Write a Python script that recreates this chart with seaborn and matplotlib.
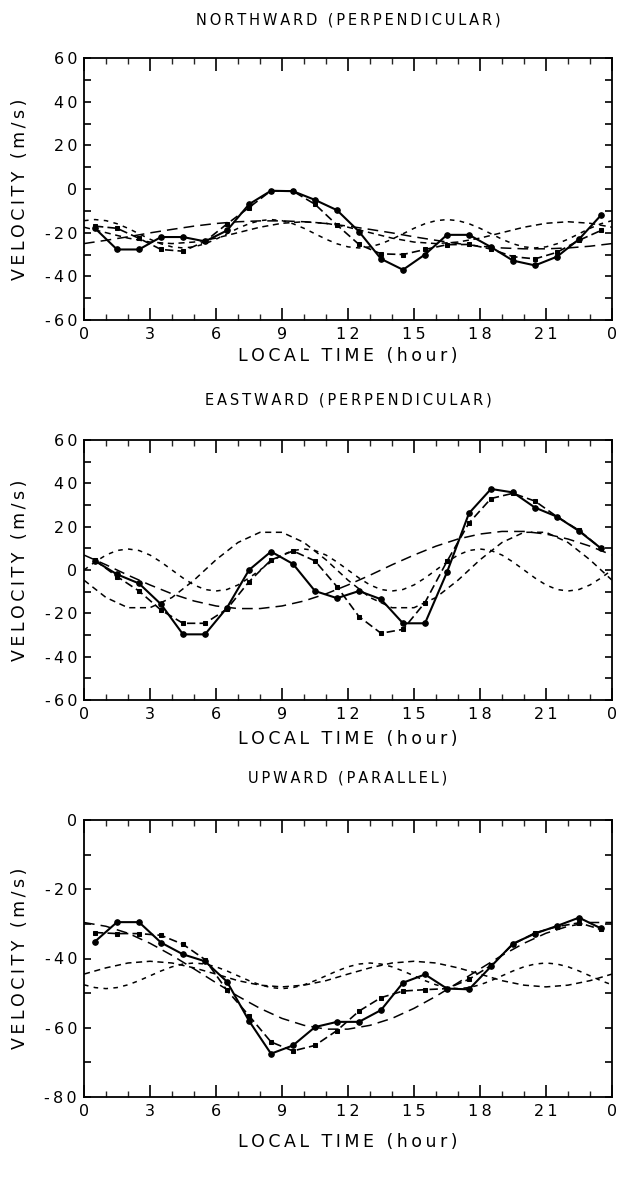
import numpy as np
import pandas as pd
import matplotlib
matplotlib.use("Agg")
import matplotlib.pyplot as plt
import seaborn as sns
from matplotlib.ticker import MultipleLocator

# ---------------- data ----------------
obs_hours = [0.5, 1.5, 2.5, 3.5, 4.5, 5.5, 6.5, 7.5, 8.5, 9.5, 10.5, 11.5,
             12.5, 13.5, 14.5, 15.5, 16.5, 17.5, 18.5, 19.5, 20.5, 21.5, 22.5, 23.5]
fit_hours = [0, 1, 2, 3, 4, 5, 6, 7, 8, 9, 10, 11, 12, 13, 14, 15, 16, 17, 18,
             19, 20, 21, 22, 23, 24]
fit_hours_half = list(np.arange(0, 24.5, 0.5))

x_tick_pos = [0, 3, 6, 9, 12, 15, 18, 21, 24]
x_tick_lab = ["0", "3", "6", "9", "12", "15", "18", "21", "0"]

# Northward
north_obs = [-18, -27.7, -27.7, -22, -22, -24, -19, -7, -0.8, -1, -5, -9.7,
             -19.5, -32, -37, -30, -21, -21, -26.6, -32.8, -35, -31, -23, -12]
north_fit = [-17, -18, -22.6, -27.7, -28.5, -24, -16, -8.5, -0.8, -1, -7, -16.5,
             -25.4, -29.7, -30, -27.7, -25.5, -25.4, -27.5, -31, -32, -29, -23.5, -19]
north_diurnal = [-25.0, -23.5, -21.9, -20.1, -18.5, -17.0, -15.8, -15.0, -14.6,
                 -14.6, -15.0, -15.8, -17.0, -18.5, -20.1, -21.9, -23.5, -25.0,
                 -26.2, -27.0, -27.4, -27.4, -27.0, -26.2, -25.0]
north_semi = [-17.5, -20.0, -22.5, -24.3, -25.0, -24.3, -22.5, -20.0, -17.5,
              -15.7, -15.0, -15.7, -17.5, -20.0, -22.5, -24.3, -25.0, -24.3,
              -22.5, -20.0, -17.5, -15.7, -15.0, -15.7, -17.5]
north_ter = [-14.5, -14.0, -14.5, -15.9, -18.0, -20.5, -23.0, -25.1, -26.5, -27.0,
             -26.5, -25.1, -23.0, -20.5, -18.0, -15.9,
             -14.5, -14.0, -14.5, -15.9, -18.0, -20.5, -23.0, -25.1, -26.5, -27.0,
             -26.5, -25.1, -23.0, -20.5, -18.0, -15.9,
             -14.5, -14.0, -14.5, -15.9, -18.0, -20.5, -23.0, -25.1, -26.5, -27.0,
             -26.5, -25.1, -23.0, -20.5, -18.0, -15.9, -14.5]

# Eastward
east_obs = [4.2, -2, -6.2, -15.8, -29.7, -29.7, -17.4, 0, 8.5, 2.8, -9.7, -13,
            -9.7, -13.5, -24.6, -24.6, -1, 26.2, 37.4, 35.8, 28.8, 24.6, 18, 10]
east_fit = [4.5, -3, -9.7, -18.5, -24.6, -24.6, -18, -5.4, 4.6, 8.8, 4.2, -7.7,
            -21.5, -29.2, -27.4, -15, 4, 21.7, 33, 35.4, 31.8, 24.6, 18.3, 10]
east_diurnal = [6.9, 2.4, -2.4, -6.9, -11.0, -14.3, -16.6, -17.8, -17.8, -16.6,
                -14.3, -11.0, -6.9, -2.4, 2.4, 6.9, 11.0, 14.3, 16.6, 17.8, 17.8,
                16.6, 14.3, 11.0, 6.9]
east_semi = [-4.7, -12.7, -17.4, -17.4, -12.7, -4.7, 4.7, 12.7, 17.4, 17.4, 12.7,
             4.7, -4.7, -12.7, -17.4, -17.4, -12.7, -4.7, 4.7, 12.7, 17.4, 17.4,
             12.7, 4.7, -4.7]
east_ter = [0, 3.7, 6.9, 9.0, 9.7, 9.0, 6.9, 3.7, 0, -3.7, -6.9, -9.0, -9.7, -9.0,
            -6.9, -3.7,
            0, 3.7, 6.9, 9.0, 9.7, 9.0, 6.9, 3.7, 0, -3.7, -6.9, -9.0, -9.7, -9.0,
            -6.9, -3.7,
            0, 3.7, 6.9, 9.0, 9.7, 9.0, 6.9, 3.7, 0, -3.7, -6.9, -9.0, -9.7, -9.0,
            -6.9, -3.7, 0]

# Upward
up_obs = [-35.1, -29.5, -29.5, -35.4, -38.8, -40.8, -46.7, -58, -67.5, -65.1,
          -59.8, -58.3, -58.3, -54.9, -47.0, -44.6, -48.7, -48.9, -42.3, -35.7,
          -32.8, -30.6, -28.2, -31.3]
up_fit = [-32.5, -32.8, -32.8, -33.3, -35.9, -40.3, -49.2, -56.5, -64.1, -66.7,
          -65.1, -60.8, -55.2, -51.3, -49.4, -49.0, -48.7, -46.0, -42.0, -35.9,
          -32.6, -30.8, -29.7, -31.6]
up_diurnal = [-29.6, -30.7, -32.7, -35.6, -39.1, -43.0, -47.0, -50.9, -54.4, -57.3,
              -59.3, -60.4, -60.4, -59.3, -57.3, -54.4, -50.9, -47.0, -43.0, -39.1,
              -35.6, -32.7, -30.7, -29.6, -29.6]
up_semi = [-44.5, -42.7, -41.3, -40.8, -41.3, -42.7, -44.5, -46.4, -47.7, -48.2,
           -47.7, -46.4, -44.5, -42.7, -41.3, -40.8, -41.3, -42.7, -44.5, -46.4,
           -47.7, -48.2, -47.7, -46.4, -44.5]
up_ter = [-47.6, -48.4, -48.7, -48.4, -47.6, -46.4, -45.0, -43.6, -42.4, -41.6,
          -41.3, -41.6, -42.4, -43.6, -45.0, -46.4,
          -47.6, -48.4, -48.7, -48.4, -47.6, -46.4, -45.0, -43.6, -42.4, -41.6,
          -41.3, -41.6, -42.4, -43.6, -45.0, -46.4,
          -47.6, -48.4, -48.7, -48.4, -47.6, -46.4, -45.0, -43.6, -42.4, -41.6,
          -41.3, -41.6, -42.4, -43.6, -45.0, -46.4, -47.6]

panels = [
    dict(title="NORTHWARD (PERPENDICULAR)", obs=north_obs, fit=north_fit,
         d=north_diurnal, s=north_semi, t=north_ter, ylim=(-60, 60),
         yticks=[-60, -40, -20, 0, 20, 40, 60]),
    dict(title="EASTWARD (PERPENDICULAR)", obs=east_obs, fit=east_fit,
         d=east_diurnal, s=east_semi, t=east_ter, ylim=(-60, 60),
         yticks=[-60, -40, -20, 0, 20, 40, 60]),
    dict(title="UPWARD (PARALLEL)", obs=up_obs, fit=up_fit,
         d=up_diurnal, s=up_semi, t=up_ter, ylim=(-80, 0),
         yticks=[-80, -60, -40, -20, 0]),
]

# ---------------- style / layout ----------------
sns.set_theme(style="ticks")
plt.rcParams["font.family"] = ["DejaVu Sans"]

W, H = 621, 1197
fig = plt.figure(figsize=(W / 100, H / 100), dpi=100)
fig.patch.set_facecolor("white")

TS = "\u2009"


def sp(s):
    return TS.join(s)


# axes boxes in pixels: (left, top, right, bottom)
boxes = [(84, 58, 612, 320), (84, 440, 612, 700), (84, 820, 612, 1097)]
title_y = [20, 400, 778]
xlabel_y = [356, 739, 1142]

for p, (l, t, r, b), ty, xy in zip(panels, boxes, title_y, xlabel_y):
    ax = fig.add_axes([l / W, 1 - b / H, (r - l) / W, (b - t) / H])
    ax.set_facecolor("white")

    dfd = pd.DataFrame({"x": fit_hours, "d": p["d"], "s": p["s"]})
    dft = pd.DataFrame({"x": fit_hours_half, "t": p["t"]})
    dfo = pd.DataFrame({"x": obs_hours, "obs": p["obs"], "fit": p["fit"]})

    sns.lineplot(data=dfd, x="x", y="d", ax=ax, color="black", lw=1.1,
                 linestyle=(0, (7, 4)))
    sns.lineplot(data=dfd, x="x", y="s", ax=ax, color="black", lw=1.1,
                 linestyle=(0, (4, 3)))
    sns.lineplot(data=dft, x="x", y="t", ax=ax, color="black", lw=1.1,
                 linestyle=(0, (3, 3.5)))
    sns.lineplot(data=dfo, x="x", y="fit", ax=ax, color="black", lw=1.2,
                 linestyle=(0, (5, 2.5)), marker="s", markersize=3.5,
                 markeredgecolor="black", markerfacecolor="black")
    sns.lineplot(data=dfo, x="x", y="obs", ax=ax, color="black", lw=1.5,
                 marker="o", markersize=4, markeredgecolor="black",
                 markerfacecolor="black")

    ax.set_xlim(0, 24)
    ax.set_ylim(*p["ylim"])
    ax.set_xticks(x_tick_pos)
    ax.set_xticklabels([sp(s) for s in x_tick_lab])
    ax.set_yticks(p["yticks"])
    ax.set_yticklabels([sp(str(v)) for v in p["yticks"]])
    ax.xaxis.set_minor_locator(MultipleLocator(1))
    ax.yaxis.set_minor_locator(MultipleLocator(10))
    ax.tick_params(axis="x", which="major", direction="in", top=True,
                   bottom=True, length=9, width=1.2, labelsize=11.5, pad=5,
                   colors="black")
    ax.tick_params(axis="x", which="minor", direction="in", top=True,
                   bottom=True, length=4, width=1.0)
    ax.tick_params(axis="y", which="both", direction="in", left=True,
                   right=True, length=5, width=1.2, labelsize=11.5, pad=5,
                   colors="black")
    for sdir in ["left", "right", "top", "bottom"]:
        ax.spines[sdir].set_visible(True)
        ax.spines[sdir].set_linewidth(1.3)
        ax.spines[sdir].set_color("black")
    ax.set_xlabel("")
    ax.set_ylabel("")

    cx = (l + r) / 2 / W
    fig.text(cx, 1 - ty / H, sp(p["title"]), ha="center", va="center",
             fontsize=10.5, color="black")
    fig.text(cx, 1 - xy / H, sp("LOCAL TIME (hour)"), ha="center",
             va="center", fontsize=12.5, color="black")
    fig.text(20 / W, 1 - (t + b) / 2 / H, sp("VELOCITY (m/s)"), ha="center",
             va="center", rotation=90, fontsize=12.5, color="black")

fig.savefig("out.png", dpi=100, facecolor="white")
